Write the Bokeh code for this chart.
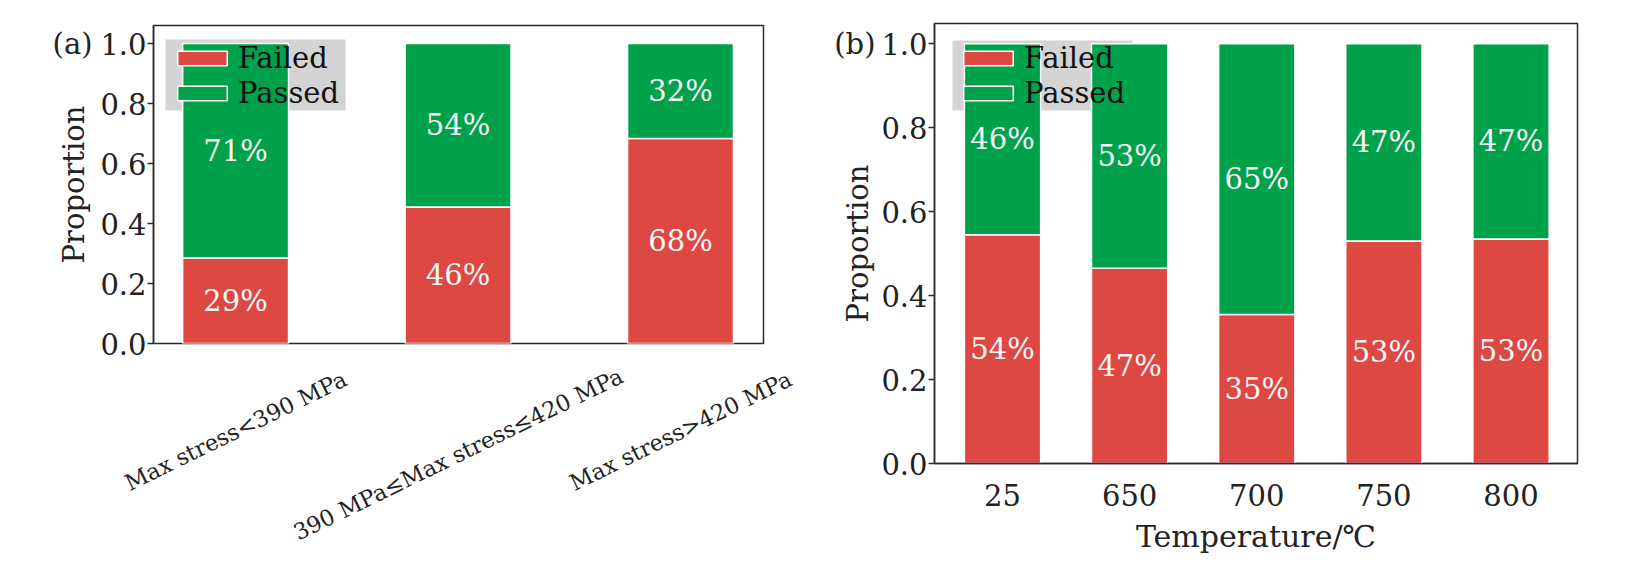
import math
from bokeh.plotting import figure
from bokeh.layouts import row, column
from bokeh.models import (ColumnDataSource, Range1d, FixedTicker, NumeralTickFormatter,
                          BoxAnnotation, LinearAxis)
from bokeh.core.properties import value
from bokeh.embed import file_html
from bokeh.resources import INLINE

# ---------------- data ----------------
stress_cats = ["Max stress<390 MPa", "390 MPa\u2264Max stress\u2264420 MPa", "Max stress>420 MPa"]
stress_failed = [0.285, 0.455, 0.683]
stress_passed = [0.715, 0.545, 0.317]
stress_failed_lbl = ["29%", "46%", "68%"]
stress_passed_lbl = ["71%", "54%", "32%"]

temp_cats = ["25", "650", "700", "750", "800"]
temp_failed = [0.545, 0.465, 0.355, 0.530, 0.535]
temp_passed = [0.455, 0.535, 0.645, 0.470, 0.465]
temp_failed_lbl = ["54%", "47%", "35%", "53%", "53%"]
temp_passed_lbl = ["46%", "53%", "65%", "47%", "47%"]

y_ticks = [0.0, 0.2, 0.4, 0.6, 0.8, 1.0]
series_names = ["Failed", "Passed"]

# ---------------- style ----------------
FONT = "DejaVu Serif"
RED = "#DD4843"
GREEN = "#00A14B"
FRAME = "#2b2b2b"
GREY = "#D4D4D4"
TXT = "#222222"
TICK_FS = 29


def style_axis(ax):
    ax.axis_line_color = FRAME
    ax.axis_line_width = 1.5
    ax.major_tick_line_color = FRAME
    ax.major_tick_line_width = 1.5
    ax.minor_tick_line_color = None
    ax.major_label_text_font = FONT
    ax.major_label_text_font_size = f"{TICK_FS}px"
    ax.major_label_text_color = TXT
    ax.axis_label_text_font = FONT
    ax.axis_label_text_font_size = "29px"
    ax.axis_label_text_font_style = "normal"
    ax.axis_label_text_color = TXT


def make_panel(cats, failed, passed, flbl, plbl, width, height, borders,
               x_range, y_end, bar_w, legend_loc, grey_box, tag, tag_standoff,
               ylabel_standoff, xlabel=None, show_xaxis=True):
    n = len(cats)
    xs = list(range(n))
    src = ColumnDataSource(dict(
        x=xs, failed=failed, passed=passed,
        fy=[f / 2 for f in failed],
        py=[f + q / 2 for f, q in zip(failed, passed)],
        flbl=flbl, plbl=plbl,
    ))
    p = figure(width=width, height=height, output_backend="svg", toolbar_location=None,
               x_range=Range1d(*x_range), y_range=Range1d(0, y_end),
               min_border_left=borders[0], min_border_right=borders[1],
               min_border_top=borders[2], min_border_bottom=borders[3])
    p.xgrid.visible = False
    p.ygrid.visible = False
    p.outline_line_color = FRAME
    p.outline_line_width = 1.5
    p.outline_line_alpha = 1.0

    # grey legend backdrop beneath the bars
    lft, rgt, top, bot = grey_box
    p.add_layout(BoxAnnotation(left=lft, right=rgt, top=top, bottom=bot,
                               left_units="screen", right_units="screen",
                               top_units="screen", bottom_units="screen",
                               fill_color=GREY, fill_alpha=1.0, line_color=None,
                               level="underlay"))

    p.vbar_stack(["failed", "passed"], x="x", width=bar_w, color=[RED, GREEN],
                 line_color="white", line_width=1.5, source=src,
                 legend_label=series_names)

    for col, lab in (("fy", "flbl"), ("py", "plbl")):
        p.text(x="x", y=col, text=lab, source=src, text_align="center",
               text_baseline="middle", text_color="#F6F6F6",
               text_font=value(FONT), text_font_size="29px")

    # main y axis: ticks and tick labels
    yax = p.yaxis[0]
    style_axis(yax)
    yax.ticker = FixedTicker(ticks=y_ticks)
    yax.formatter = NumeralTickFormatter(format="0.0")
    yax.major_tick_out = 6
    yax.major_tick_in = 0
    yax.major_label_standoff = 1

    # outer left axis carrying the panel tag and the axis title
    outer = LinearAxis(ticker=FixedTicker(ticks=[y_ticks[-1]]),
                       major_label_overrides={y_ticks[-1]: tag})
    style_axis(outer)
    outer.axis_line_color = None
    outer.major_tick_line_color = None
    outer.major_tick_out = 0
    outer.major_tick_in = 0
    outer.major_label_standoff = tag_standoff
    outer.axis_label = "Proportion"
    outer.axis_label_standoff = ylabel_standoff
    p.add_layout(outer, "left")

    xax = p.xaxis[0]
    style_axis(xax)
    xax.major_tick_out = 0
    xax.major_tick_in = 0
    if show_xaxis:
        xax.ticker = FixedTicker(ticks=xs)
        xax.major_label_overrides = {i: c for i, c in enumerate(cats)}
        xax.major_label_standoff = 20
        if xlabel:
            xax.axis_label = xlabel
            xax.axis_label_text_font_size = "30px"
            xax.axis_label_standoff = 10
    else:
        xax.visible = False

    # legend
    leg = p.legend[0]
    leg.location = legend_loc
    leg.background_fill_alpha = 0
    leg.border_line_color = None
    leg.padding = 0
    leg.margin = 0
    leg.spacing = 0
    leg.glyph_width = 62
    leg.glyph_height = 18
    leg.label_height = 35
    leg.label_standoff = 5
    leg.label_text_font = FONT
    leg.label_text_font_size = "29px"
    leg.label_text_color = "#111111"
    return p


# ---------- panel (a) ----------
A_W, A_L, A_R, A_T, A_B = 790, 153, 27, 25, 20
A_FRAME_H = 318
A_H = A_T + A_FRAME_H + A_B
A_X = (-0.369, 2.373)
pa = make_panel(stress_cats, stress_failed, stress_passed, stress_failed_lbl, stress_passed_lbl,
                width=A_W, height=A_H, borders=(A_L, A_R, A_T, A_B),
                x_range=A_X, y_end=1.06, bar_w=0.476,
                legend_loc=(18, 233), grey_box=(12, 192, 304, 233),
                tag="(a)", tag_standoff=5, ylabel_standoff=-41, show_xaxis=False)

# strip under panel (a) holding the slanted category labels, same x scale as panel (a)
TOTAL_H = 568
STRIP_W = 800
STRIP_H = TOTAL_H - A_H
FS_CAT = 22.5
CAT_ANGLE = 26
frame_w = A_W - A_L - A_R
k = (A_X[1] - A_X[0]) / frame_w
sx0 = A_X[0] - A_L * k
sx1 = sx0 + STRIP_W * k
th = math.radians(CAT_ANGLE)
cat_y = []
for c in stress_cats:
    est_len = 0.59 * FS_CAT * len(c)
    box_h = 1.17 * FS_CAT
    half_h = (est_len * math.sin(th) + box_h * math.cos(th)) / 2
    cat_y.append(-(3 + half_h))      # measured downward from the strip's top edge
strip = figure(width=STRIP_W, height=STRIP_H, output_backend="svg", toolbar_location=None,
               x_range=Range1d(sx0, sx1), y_range=Range1d(-STRIP_H, 0),
               x_axis_location=None, y_axis_location=None,
               min_border_left=0, min_border_right=0, min_border_top=0, min_border_bottom=0)
strip.outline_line_color = None
strip.grid.visible = False
strip.text(x=list(range(len(stress_cats))), y=cat_y, text=stress_cats,
           angle=CAT_ANGLE, angle_units="deg", text_align="center", text_baseline="middle",
           text_font=value(FONT), text_font_size=f"{FS_CAT}px", text_color=TXT)

# ---------- panel (b) ----------
pb = make_panel(temp_cats, temp_failed, temp_passed, temp_failed_lbl, temp_passed_lbl,
                width=825, height=TOTAL_H, borders=(134, 48, 23, TOTAL_H - 23 - 440),
                x_range=(-0.535, 4.523), y_end=1.048, bar_w=0.6,
                legend_loc=(23, 353), grey_box=(18, 198, 423, 353),
                tag="(b)", tag_standoff=3, ylabel_standoff=-44,
                xlabel="Temperature/\u2103")

layout = row(column(row(pa), row(strip)), column(pb))
open("out.html", "w").write(file_html(layout, INLINE))
